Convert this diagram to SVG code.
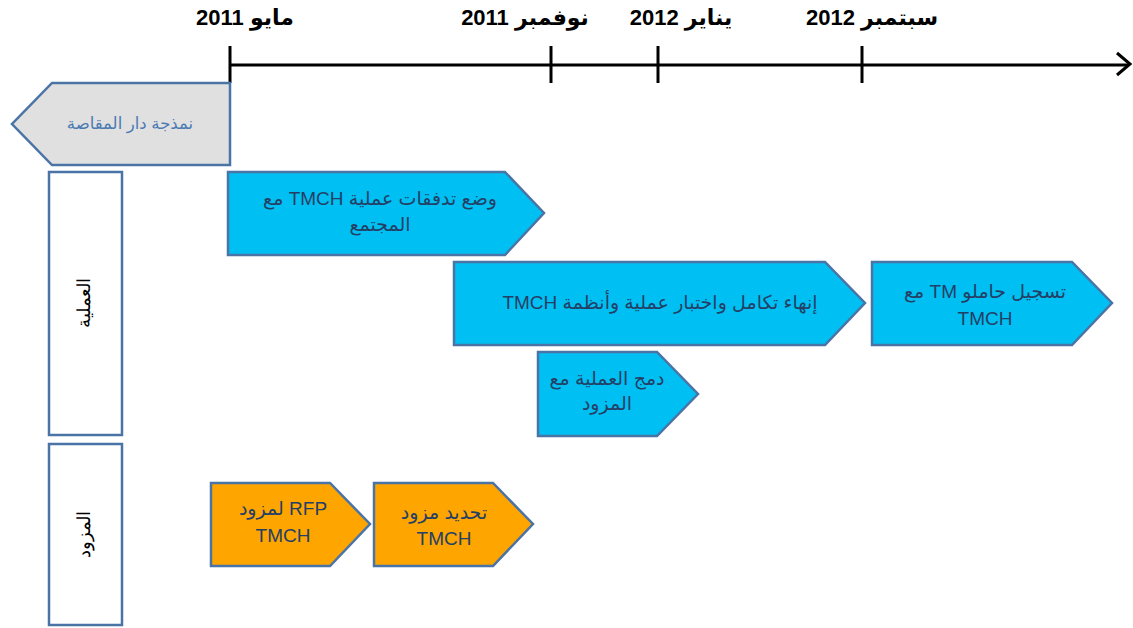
<svg xmlns="http://www.w3.org/2000/svg" width="1133" height="628" viewBox="0 0 1133 628">
<style>
.bg{fill:#ffffff}
.axis{stroke:#000;stroke-width:3;fill:none}
.date{font-family:"Liberation Sans","DejaVu Sans",sans-serif;font-size:22px;font-weight:bold;fill:#000;text-anchor:middle;direction:rtl}
.shape{stroke:#4a73a6;stroke-width:2.5}
.gray{fill:#e0e0e0}
.blue{fill:#00bff2}
.orange{fill:#ffa500}
.lane{fill:#fff;stroke:#4a73a6;stroke-width:2.5}
.t{font-family:"Liberation Sans","DejaVu Sans",sans-serif;font-size:19px;fill:#243f66;text-anchor:middle;direction:rtl}
.tg{font-family:"Liberation Sans","DejaVu Sans",sans-serif;font-size:16.5px;fill:#4a7ab2;text-anchor:middle;direction:rtl}
.lt{font-family:"Liberation Serif","DejaVu Serif",serif;font-size:18px;fill:#000;text-anchor:middle;direction:rtl}
</style>
<rect class="bg" x="0" y="0" width="1133" height="628"/>
<g id="timeline">
<line class="axis" x1="230" y1="65" x2="1129" y2="65"/>
<polyline class="axis" points="1117,53 1130,64 1117,75"/>
<line class="axis" x1="230" y1="46" x2="230" y2="83"/>
<line class="axis" x1="551" y1="46" x2="551" y2="83"/>
<line class="axis" x1="658" y1="46" x2="658" y2="83"/>
<line class="axis" x1="862" y1="46" x2="862" y2="83"/>
<text class="date" x="245" y="25">مايو 2011</text>
<text class="date" x="525" y="25">نوفمبر 2011</text>
<text class="date" x="681" y="25">يناير 2012</text>
<text class="date" x="872" y="25">سبتمبر 2012</text>
</g>
<g id="connectors"></g>
<g id="clearing-house">
<polygon class="shape gray" points="230,83 52,83 12,124 52,165 230,165"/>
<text class="tg" x="130" y="129">نمذجة دار المقاصة</text>
</g>
<g id="lane-process">
<rect class="lane" x="49" y="172" width="73" height="263"/>
<text class="lt" transform="translate(90,303) rotate(-90)">العملية</text>
</g>
<g id="lane-provider">
<rect class="lane" x="49" y="444" width="73" height="181"/>
<text class="lt" transform="translate(90,534) rotate(-90)">المزود</text>
</g>
<g id="task-flows">
<polygon class="shape blue" points="228,172 505,172 544,213 505,255 228,255"/>
<text class="t" x="380" y="205">وضع تدفقات عملية TMCH مع</text>
<text class="t" x="380" y="231">المجتمع</text>
</g>
<g id="task-integration">
<polygon class="shape blue" points="454,262 825,262 865,303 825,345 454,345"/>
<text class="t" x="660" y="309">إنهاء تكامل واختبار عملية وأنظمة TMCH</text>
</g>
<g id="task-merge">
<polygon class="shape blue" points="538,352 657,352 698,394 657,436 538,436"/>
<text class="t" x="607" y="385">دمج العملية مع</text>
<text class="t" x="607" y="410">المزود</text>
</g>
<g id="task-register">
<polygon class="shape blue" points="872,262 1072,262 1112,303 1072,345 872,345"/>
<text class="t" x="985" y="298">تسجيل حاملو TM مع</text>
<text class="t" x="985" y="325">TMCH</text>
</g>
<g id="task-rfp">
<polygon class="shape orange" points="211,483 330,483 370,524 330,566 211,566"/>
<text class="t" x="283" y="515">RFP لمزود</text>
<text class="t" x="283" y="542">TMCH</text>
</g>
<g id="task-select">
<polygon class="shape orange" points="374,483 493,483 533,524 493,566 374,566"/>
<text class="t" x="444" y="519">تحديد مزود</text>
<text class="t" x="444" y="545">TMCH</text>
</g>
</svg>
